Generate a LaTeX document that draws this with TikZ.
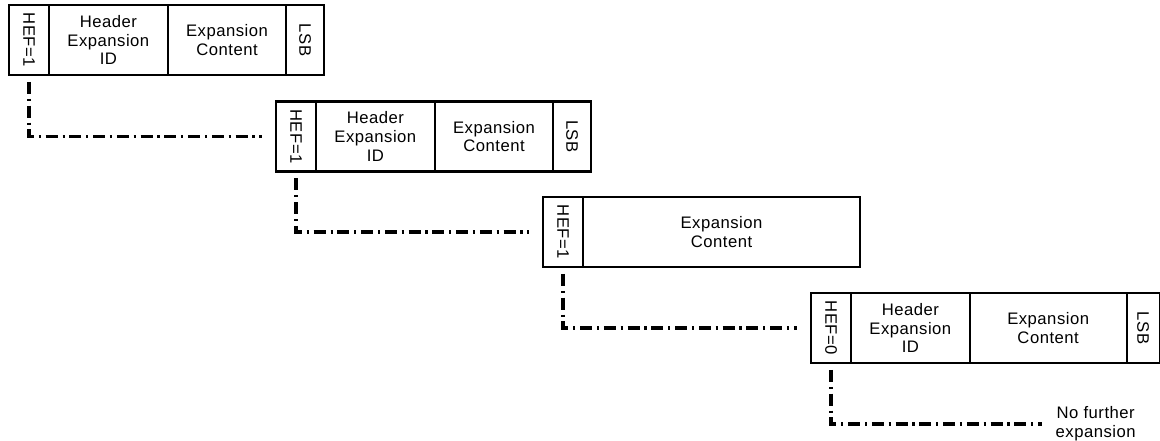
\documentclass[tikz,border=0pt]{standalone}
\usepackage{fontspec}
\usepackage{graphicx}
\setmainfont{Liberation Sans}
\newfontfamily\fieldfont[LetterSpace=3]{Liberation Sans}
\usetikzlibrary{positioning}
\newcommand{\Upright}[1]{\rotatebox{-90}{#1}}
\tikzset{
    cell/.style={draw, line width=1.7pt, minimum height=52.5pt, inner sep=0pt, outer sep=0pt,
        align=center, font=\fieldfont\fontsize{12.5}{14}\selectfont},
    hefcell/.style={cell, minimum width=30pt},
    idcell/.style={cell, minimum width=89pt},
    contentcell/.style={cell, minimum width=89pt},
    lsbcell/.style={cell, minimum width=28pt},
    flow/.style={line width=2.5pt, dash pattern=on 9pt off 3.6pt on 1.6pt off 3.6pt},
}

\begin{document}
\begin{tikzpicture}[x=0.75pt, y=-0.75pt]
    \useasboundingbox (0,0) rectangle (1160,441);

    % first expansion
    \node[hefcell, anchor=north west] (hef1) at (9,5) {\Upright{HEF=1}};
    \node[idcell, right=0pt of hef1] (id1) {Header\\Expansion\\ID};
    \node[contentcell, right=0pt of id1] (content1) {Expansion\\Content};
    \node[lsbcell, right=0pt of content1] (lsb1) {\Upright{LSB}};

    % second expansion
    \node[hefcell, anchor=north west] (hef2) at (276,101.5) {\Upright{HEF=1}};
    \node[idcell, right=0pt of hef2] (id2) {Header\\Expansion\\ID};
    \node[contentcell, right=0pt of id2] (content2) {Expansion\\Content};
    \node[lsbcell, right=0pt of content2] (lsb2) {\Upright{LSB}};

    % third expansion, content only
    \node[hefcell, anchor=north west] (hef3) at (543,197) {\Upright{HEF=1}};
    \node[cell, minimum width=207.75pt, right=0pt of hef3] (content3) {Expansion\\Content};

    % last expansion
    \node[hefcell, anchor=north west] (hef4) at (811,293) {\Upright{HEF=0}};
    \node[idcell, right=0pt of hef4] (id4) {Header\\Expansion\\ID};
    \node[cell, minimum width=117.75pt, right=0pt of id4] (content4) {Expansion\\Content};
    \node[cell, minimum width=24.75pt, right=0pt of content4] (lsb4) {\Upright{LSB}};

    \node[anchor=west, align=center, font=\fieldfont\fontsize{12.5}{14}\selectfont] (nofurther) at (1051,424) {No further\\expansion};

    \draw[flow] ([yshift=-5.25pt]hef1.south) |- ([xshift=-10.5pt]hef2.west);
    \draw[flow] ([yshift=-5.25pt]hef2.south) |- ([xshift=-10.5pt]hef3.west);
    \draw[flow] ([yshift=-5.25pt]hef3.south) |- ([xshift=-10.5pt]hef4.west);
    \draw[flow] ([yshift=-5.25pt]hef4.south) |- ([xshift=-6.75pt]nofurther.west);
\end{tikzpicture}
\end{document}
